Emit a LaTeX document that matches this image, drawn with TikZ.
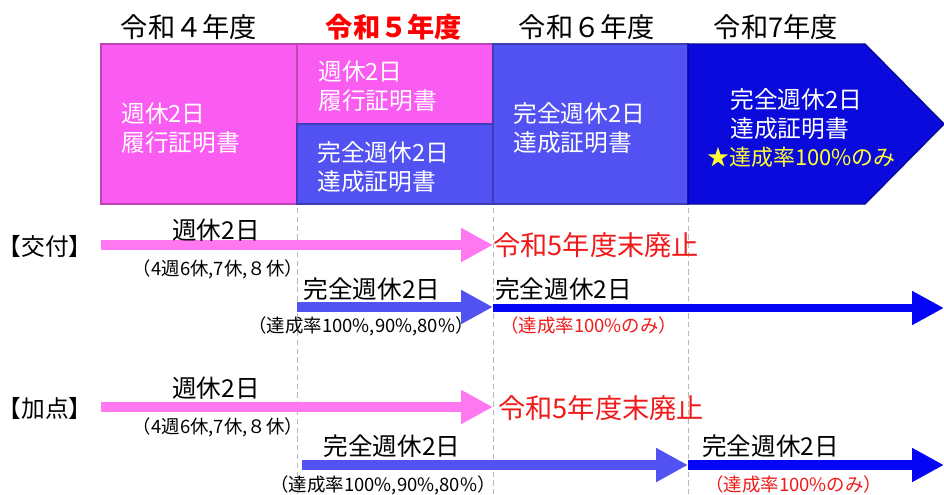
\documentclass[tikz,border=0pt]{standalone}
\usepackage{fontspec}
\setmainfont{Noto Sans CJK JP}
\usepackage{xcolor}
\usepackage{tikz}
\usetikzlibrary{positioning,arrows.meta}
\definecolor{PinkBox}{HTML}{FA5CF2}
\definecolor{PinkArrow}{HTML}{FF78F0}
\definecolor{MidBlue}{HTML}{5252F2}
\definecolor{DeepBlue}{HTML}{0A0ADC}
\definecolor{ArrowBlue}{HTML}{0505F5}
\definecolor{StarYellow}{HTML}{FFFF33}
\definecolor{AlertRed}{HTML}{F01A1A}

\begin{document}
\begin{tikzpicture}[x=0.02cm, y=-0.02cm,
year/.style={font=\fontsize{15.5}{18}\selectfont},
block/.style={rectangle, draw=#1!75!black, fill=#1, line width=0.8pt, anchor=north west, inner sep=0pt, outer sep=0pt},
boxtext/.style={text=white, align=left, anchor=west, inner sep=0pt, font=\fontsize{13.5}{16.5}\selectfont},
rowlabel/.style={font=\fontsize{13.5}{16}\selectfont},
bigtext/.style={font=\fontsize{14}{16}\selectfont},
smalltext/.style={font=\fontsize{10.5}{12}\selectfont},
endtext/.style={text=AlertRed, anchor=west, inner sep=0pt, font=\fontsize{15.5}{18}\selectfont},
bigarrow/.style={draw=#1, line width=0.19cm, -{Triangle[length=0.64cm,width=0.64cm]}},
yearline/.style={draw=gray!55, line width=0.5pt, dash pattern=on 3pt off 2pt},
]
\useasboundingbox (0,0) rectangle (944,494);

% year headings
\node[year] (y4) at (189,27) {令和４年度};
\node[year, text=red, font=\fontsize{15.5}{18}\selectfont\bfseries] (y5) at (394,27) {令和５年度};
\node[year] (y6) at (587,27) {令和６年度};
\node[year] (y7) at (776,27) {令和7年度};

% certificate blocks
\node[block=PinkBox, minimum width=3.92cm, minimum height=3.2cm] (b4) at (101,44) {};
\node[block=PinkBox, minimum width=3.92cm, minimum height=1.6cm] (b5a) at (297,44) {};
\node[block=MidBlue, minimum width=3.92cm, minimum height=1.6cm] (b5b) at (297,124) {};
\node[block=MidBlue, minimum width=3.9cm, minimum height=3.2cm] (b6) at (493,44) {};
\filldraw[fill=DeepBlue, draw=DeepBlue!70!black, line width=0.8pt]
  (688,44) -- (865,44) -- (944,124) -- (865,204) -- (688,204) -- cycle;

\node[boxtext] (t4) at (121,128) {週休2日\\履行証明書};
\node[boxtext] (t5a) at (318,86) {週休2日\\履行証明書};
\node[boxtext] (t5b) at (317,167) {完全週休2日\\達成証明書};
\node[boxtext] (t6) at (513,128) {完全週休2日\\達成証明書};
\node[boxtext] (t7) at (730,114) {完全週休2日\\達成証明書};
\node[text=StarYellow, anchor=west, inner sep=0pt, font=\fontsize{12.5}{14}\selectfont] (star) at (707,157) {★達成率100\%のみ};

% year borders
\foreach \x in {297,493,688}
  \draw[yearline] (\x,208) -- (\x,494);

% 交付
\node[rowlabel] (kofu) at (45,246) {【交付】};
\coordinate (k1s) at (101,245);
\coordinate (k1e) at (493,245);
\coordinate (k2s) at (297,307);
\coordinate (k2e) at (493,307);
\coordinate (k3s) at (493,308);
\coordinate (k3e) at (944,308);
\draw[bigarrow=PinkArrow] (k1s) -- (k1e);
\draw[bigarrow=MidBlue] (k2s) -- (k2e);
\draw[bigarrow=ArrowBlue, line width=0.17cm] (k3s) -- (k3e);

\node[bigtext] (k1top) at (216,230) {週休2日};
\node[smalltext] (k1bot) at (218,269) {（4週6休,7休,８休）};
\node[endtext] (k1end) at (493,245) {令和5年度末廃止};
\node[bigtext] (k2top) at (372,289) {完全週休2日};
\node[smalltext] (k2bot) at (361,326) {（達成率100\%,90\%,80\%）};
\node[bigtext, anchor=west, inner sep=0pt] (k3top) at (495,289) {完全週休2日};
\node[smalltext, text=AlertRed, anchor=west, inner sep=0pt] (k3bot) at (500,325) {（達成率100\%のみ）};

% 加点
\node[rowlabel] (katen) at (45,408) {【加点】};
\coordinate (a1s) at (101,407);
\coordinate (a1e) at (493,407);
\coordinate (a2s) at (302,465);
\coordinate (a2e) at (688,465);
\coordinate (a3s) at (688,465);
\coordinate (a3e) at (944,465);
\draw[bigarrow=PinkArrow] (a1s) -- (a1e);
\draw[bigarrow=MidBlue] (a2s) -- (a2e);
\draw[bigarrow=ArrowBlue] (a3s) -- (a3e);

\node[bigtext] (a1top) at (216,388) {週休2日};
\node[smalltext] (a1bot) at (218,427) {（4週6休,7休,８休）};
\node[endtext] (a1end) at (498,408) {令和5年度末廃止};
\node[bigtext] (a2top) at (392,446) {完全週休2日};
\node[smalltext] (a2bot) at (383,485) {（達成率100\%,90\%,80\%）};
\node[bigtext, anchor=west, inner sep=0pt] (a3top) at (702,446) {完全週休2日};
\node[smalltext, text=AlertRed, anchor=west, inner sep=0pt] (a3bot) at (705,484) {（達成率100\%のみ）};

\end{tikzpicture}
\end{document}
